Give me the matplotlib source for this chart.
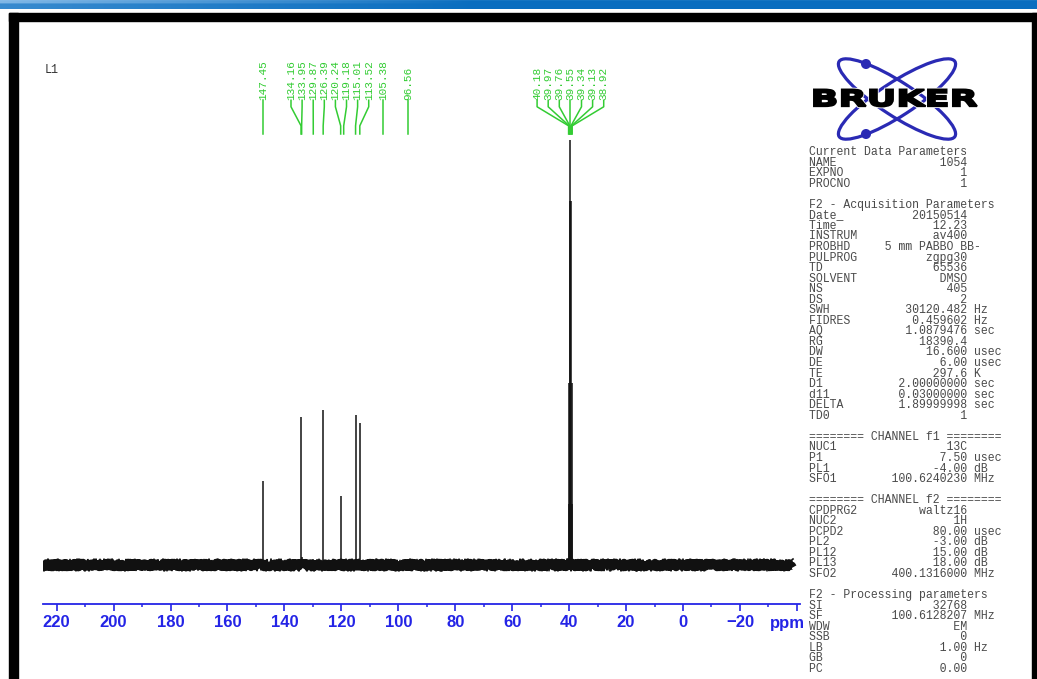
import numpy as np
import matplotlib.pyplot as plt
from matplotlib import transforms
from matplotlib.patches import Ellipse, Circle, PathPatch, Rectangle
from matplotlib.textpath import TextPath
from matplotlib.font_manager import FontProperties

# 13C peak list (ppm) with relative intensities, DMSO-d6 septet = 100
aro_ppm = [147.45, 134.16, 133.95, 129.87, 126.39, 120.24, 119.18, 115.01, 113.52, 105.38, 96.56]
aro_int = [19.8, 34.8, 1.8, 1.5, 36.5, 16.2, 1.5, 35.3, 33.4, 1.2, 1.2]
dmso_ppm = [40.18, 39.97, 39.76, 39.55, 39.34, 39.13, 38.92]
dmso_int = [14.3, 42.9, 85.7, 100.0, 85.7, 42.9, 14.3]

# spectral window and axis labelling
window_ppm = [224.8, -38.6]
major_ticks = [220, 200, 180, 160, 140, 120, 100, 80, 60, 40, 20, 0, -20, -40]
major_labels = ['220', '200', '180', '160', '140', '120', '100', '80', '60', '40', '20', '0', '\u221220', '']
minor_ticks = [210, 190, 170, 150, 130, 110, 90, 70, 50, 30, 10, -10, -30]

# parameter listing
params = [
    ('Current Data Parameters', None, None),
    ('NAME', '1054', ''),
    ('EXPNO', '1', ''),
    ('PROCNO', '1', ''),
    ('', None, None),
    ('F2 - Acquisition Parameters', None, None),
    ('Date_', '20150514', ''),
    ('Time', '12.23', ''),
    ('INSTRUM', 'av400', ''),
    ('PROBHD     5 mm PABBO BB-', None, None),
    ('PULPROG', 'zgpg30', ''),
    ('TD', '65536', ''),
    ('SOLVENT', 'DMSO', ''),
    ('NS', '405', ''),
    ('DS', '2', ''),
    ('SWH', '30120.482', 'Hz'),
    ('FIDRES', '0.459602', 'Hz'),
    ('AQ', '1.0879476', 'sec'),
    ('RG', '18390.4', ''),
    ('DW', '16.600', 'usec'),
    ('DE', '6.00', 'usec'),
    ('TE', '297.6', 'K'),
    ('D1', '2.00000000', 'sec'),
    ('d11', '0.03000000', 'sec'),
    ('DELTA', '1.89999998', 'sec'),
    ('TD0', '1', ''),
    ('', None, None),
    ('======== CHANNEL f1 ========', None, None),
    ('NUC1', '13C', ''),
    ('P1', '7.50', 'usec'),
    ('PL1', '-4.00', 'dB'),
    ('SFO1', '100.6240230', 'MHz'),
    ('', None, None),
    ('======== CHANNEL f2 ========', None, None),
    ('CPDPRG2', 'waltz16', ''),
    ('NUC2', '1H', ''),
    ('PCPD2', '80.00', 'usec'),
    ('PL2', '-3.00', 'dB'),
    ('PL12', '15.00', 'dB'),
    ('PL13', '18.00', 'dB'),
    ('SFO2', '400.1316000', 'MHz'),
    ('', None, None),
    ('F2 - Processing parameters', None, None),
    ('SI', '32768', ''),
    ('SF', '100.6128207', 'MHz'),
    ('WDW', 'EM', ''),
    ('SSB', '0', ''),
    ('LB', '1.00', 'Hz'),
    ('GB', '0', ''),
    ('PC', '0.00', ''),
]

BLUE = '#2424e6'
GREEN = '#33cc33'
MONO = 'Liberation Mono'

W, H = 1037, 679
fig = plt.figure(figsize=(W / 100, H / 100), dpi=100)
fig.patch.set_facecolor('white')

#%% page decoration in pixel coordinates
deco = fig.add_axes([0, 0, 1, 1])
deco.set_xlim(0, W)
deco.set_ylim(H, 0)
deco.axis('off')
deco.patch.set_alpha(0)

# blue header strip
strip = np.zeros((9, 200, 3))
base = np.array([0.04, 0.43, 0.75])
light = np.array([0.55, 0.75, 0.92])
fade = np.clip(1 - np.linspace(0, 1, 200) * 2.2, 0, 1)
for r in range(9):
    w = fade * (0.9 if r < 4 else 0.35)
    strip[r] = base[None, :] * (1 - w[:, None]) + light[None, :] * w[:, None]
strip[0] = 1.0
deco.imshow(strip, extent=[0, W, 9.5, 0], aspect='auto', zorder=1)

# black page frame
deco.add_patch(Rectangle((9, 12.5), W - 9, 8.5, color='black', zorder=2))
deco.add_patch(Rectangle((9, 12.5), 8.5, H, color='black', zorder=2))
deco.add_patch(Rectangle((1032, 12.5), 5, H, color='black', zorder=2))

# logo
for ang in (33, -33):
    deco.add_patch(Ellipse((897, 99), 138, 34, angle=ang, fill=False,
                           ec='#2a2ab4', lw=2.3, zorder=3))
deco.add_patch(Circle((866, 64), 4.3, color='#2a2ab4', zorder=3))
deco.add_patch(Circle((866, 134), 4.3, color='#2a2ab4', zorder=3))
tp = TextPath((0, 0), 'BRUKER', size=1, prop=FontProperties(family='DejaVu Sans', weight='bold'))
ext = tp.get_extents()
tr = (transforms.Affine2D().translate(-ext.x0, -ext.y0)
      .scale(163 / ext.width, -17 / ext.height).translate(814, 106.5))
deco.add_patch(PathPatch(tp, transform=tr + deco.transData, fc='black',
                         ec='white', lw=2.6, zorder=4))
deco.add_patch(PathPatch(tp, transform=tr + deco.transData, fc='black',
                         ec='black', lw=1.4, zorder=4))

# parameter block
for i, (name, val, unit) in enumerate(params):
    if val is None:
        line = name
    else:
        line = name.ljust(8) + val.rjust(15) + (' ' + unit if unit else '')
    deco.text(809, 152 + i * 10.55, line, family=MONO, fontsize=8.3,
              color='#4a4a4a', va='center', ha='left', zorder=5)

deco.text(45, 70, 'L1', family=MONO, fontsize=8.5, color='#333333', va='center')

#%% spectrum
ax = fig.add_axes([43 / W, 75 / H, 757 / W, 544 / H])
ax.patch.set_alpha(0)
ax.set_xlim(224.8, -41.1)
ax.set_ylim(-9.18, 118.8)

base_line, = ax.plot(window_ppm, [0, 0], color='#111111', lw=5.6, solid_capstyle='butt')
base_line.set_sketch_params(scale=2.4, length=1.5, randomness=3)
spiky, = ax.plot(window_ppm, [0, 0], color='#111111', lw=1.2)
spiky.set_sketch_params(scale=6, length=1.2, randomness=3)

ax.vlines(aro_ppm, 0, aro_int, color='#111111', lw=1.1)
ax.vlines(dmso_ppm, 0, dmso_int, color='#111111', lw=1.1)


def spread_labels(ppms, gap):
    """Spread peak labels so neighbours are at least `gap` ppm apart."""
    groups = [[p] for p in sorted(ppms, reverse=True)]

    def layout(g):
        c = np.mean(g)
        n = len(g)
        return [c + gap * ((n - 1) / 2 - k) for k in range(n)]

    merged = True
    while merged:
        merged = False
        for i in range(len(groups) - 1):
            if layout(groups[i])[-1] - layout(groups[i + 1])[0] < gap:
                groups[i] = groups[i] + groups.pop(i + 1)
                merged = True
                break
    out = []
    for g in groups:
        out += list(zip(g, layout(g)))
    return out


lab_tr = ax.get_xaxis_transform()
y_text, y1, y2, y3 = 0.926, 0.914, 0.879, 0.864
for peak, lab in spread_labels(aro_ppm, 3.9) + spread_labels(dmso_ppm, 3.9):
    ax.plot([lab, lab, peak, peak], [y_text, y1, y2, y3], color=GREEN, lw=1.1,
            transform=lab_tr, clip_on=False)
    ax.text(lab, y_text, f'{peak:.2f}', rotation=90, ha='center', va='bottom',
            family=MONO, fontsize=8, color=GREEN, transform=lab_tr, clip_on=False)

# ppm axis
for s in ('left', 'right', 'top'):
    ax.spines[s].set_visible(False)
ax.spines['bottom'].set_color(BLUE)
ax.spines['bottom'].set_linewidth(1.3)
ax.set_yticks([])
ax.set_xticks(major_ticks)
ax.set_xticklabels(major_labels)
ax.set_xticks(minor_ticks, minor=True)
ax.tick_params(axis='x', which='major', direction='out', length=5, width=1.2,
               color=BLUE, labelcolor=BLUE, pad=3)
ax.tick_params(axis='x', which='minor', direction='out', length=2.2, width=1.1, color=BLUE)
for t in ax.get_xticklabels():
    t.set_fontfamily('Liberation Sans')
    t.set_fontweight('bold')
    t.set_fontsize(12)
ax.text(-36.8, -0.035, 'ppm', transform=lab_tr, ha='center', va='center',
        family='Liberation Sans', fontweight='bold', fontsize=12, color=BLUE)

fig.savefig('out.png', dpi=100)
